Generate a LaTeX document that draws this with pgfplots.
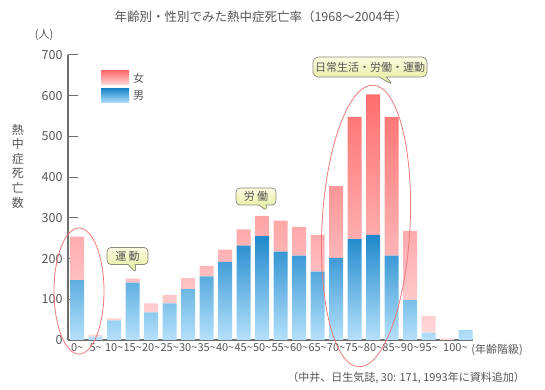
\documentclass[border=0pt]{standalone}
\usepackage{fontspec}
\setmainfont{Noto Sans CJK JP}
\usepackage{pgfplots}
\usepackage{pgfplotstable}
\pgfplotsset{compat=1.18}
\usetikzlibrary{shapes.callouts,shadings}
\definecolor{txt}{HTML}{555555}
\definecolor{ftop}{HTML}{FF6E6E}
\definecolor{fbot}{HTML}{FFDADD}
\definecolor{mtop}{HTML}{1F88CC}
\definecolor{mbot}{HTML}{B5E1FB}
\definecolor{axc}{HTML}{6E6E6E}
\definecolor{ell}{HTML}{F07A7A}
\definecolor{btop}{HTML}{FBFCE0}
\definecolor{bbot}{HTML}{E2EB98}
\definecolor{bdr}{HTML}{8A8A80}

\pgfplotstableread{
x male female
0 147 107
1 8 5
2 48 5
3 141 10
4 68 22
5 90 20
6 125 27
7 156 26
8 192 30
9 232 40
10 255 50
11 217 76
12 207 71
13 168 90
14 202 176
15 248 300
16 258 345
17 207 341
18 98 170
19 18 41
20 0 4
21 25 0
}\data

\begin{document}
\begin{tikzpicture}[x=1pt,y=1pt,font=\fontsize{11}{13}\selectfont]
\path[use as bounding box] (0,0) rectangle (545,390);

\begin{axis}[at={(68pt,50pt)}, anchor=south west, scale only axis,
 width=405pt, height=285pt,
 xmin=-0.5, xmax=21.4, ymin=0, ymax=700,
 axis x line*=bottom, axis y line*=left,
 ybar stacked, bar width=14pt,
 ytick={0,100,...,700}, xtick={0,...,19,20.45},
 xticklabels={0\textasciitilde,5\textasciitilde,10\textasciitilde,15\textasciitilde,20\textasciitilde,25\textasciitilde,30\textasciitilde,35\textasciitilde,40\textasciitilde,45\textasciitilde,50\textasciitilde,55\textasciitilde,60\textasciitilde,65\textasciitilde,70\textasciitilde,75\textasciitilde,80\textasciitilde,85\textasciitilde,90\textasciitilde,95\textasciitilde,100\textasciitilde},
 x tick style={draw=none},
 y tick style={axc, line width=1pt},
 tick align=inside, major tick length=10pt,
 axis line style={axc, line width=1.3pt},
 tick label style={text=txt},
 xticklabel style={font=\fontsize{11}{13}\selectfont, inner sep=1pt, yshift=-2pt},
 yticklabel style={font=\fontsize{12.5}{14}\selectfont, xshift=-2pt},
 /pgf/number format/assume math mode=true,
 clip=false
]
\addplot[draw=none, top color=mtop, bottom color=mbot] table[x=x, y=male] {\data};
\addplot[draw=none, top color=ftop, bottom color=fbot] table[x=x, y=female] {\data};
\end{axis}

% title and labels
\node[text=txt, font=\fontsize{12.5}{14}\selectfont] at (261,373) {年齢別・性別でみた熱中症死亡率（1968〜2004年）};
\node[text=txt] at (44,355) {(人)};
\node[text=txt, align=center, font=\fontsize{12}{14.6}\selectfont] at (18,224) {熱\\中\\症\\死\\亡\\数};
\node[text=txt, anchor=east, inner sep=0pt] at (523,40) {(年齢階級)};
\node[text=txt, anchor=east, inner sep=0pt] at (525,12) {（中井、日生気誌, 30: 171, 1993年に資料追加）};

% legend
\shade[top color=ftop, bottom color=fbot] (101,305) rectangle (129,319);
\shade[top color=mtop, bottom color=mbot] (101,287) rectangle (129,301);
\node[text=txt, anchor=west, inner sep=0pt] at (133,312) {女};
\node[text=txt, anchor=west, inner sep=0pt] at (133,294) {男};

% ellipses
\draw[ell, line width=0.8pt] (79,99) ellipse [x radius=25, y radius=63];
\draw[ell, line width=0.8pt, rotate around={-3:(366,164)}] (366,164) ellipse [x radius=44, y radius=141];

% callouts
\node[rectangle callout, rounded corners=4pt, draw=bdr, line width=0.7pt, top color=btop, bottom color=bbot,
  minimum width=41pt, minimum height=17pt, inner sep=1pt, text=txt,
  callout absolute pointer={(136,117)}] at (127.5,134) {運 動};
\node[rectangle callout, rounded corners=4pt, draw=bdr, line width=0.7pt, top color=btop, bottom color=bbot,
  minimum width=40pt, minimum height=17pt, inner sep=1pt, text=txt,
  callout absolute pointer={(267,179)}] at (256,193.5) {労 働};
\node[rectangle callout, rounded corners=5pt, draw=bdr, line width=0.7pt, top color=btop, bottom color=bbot,
  minimum width=114pt, minimum height=20pt, inner sep=1pt, text=txt,
  callout absolute pointer={(393,305)}] at (370,323) {日常生活・労働・運動};
\end{tikzpicture}
\end{document}
